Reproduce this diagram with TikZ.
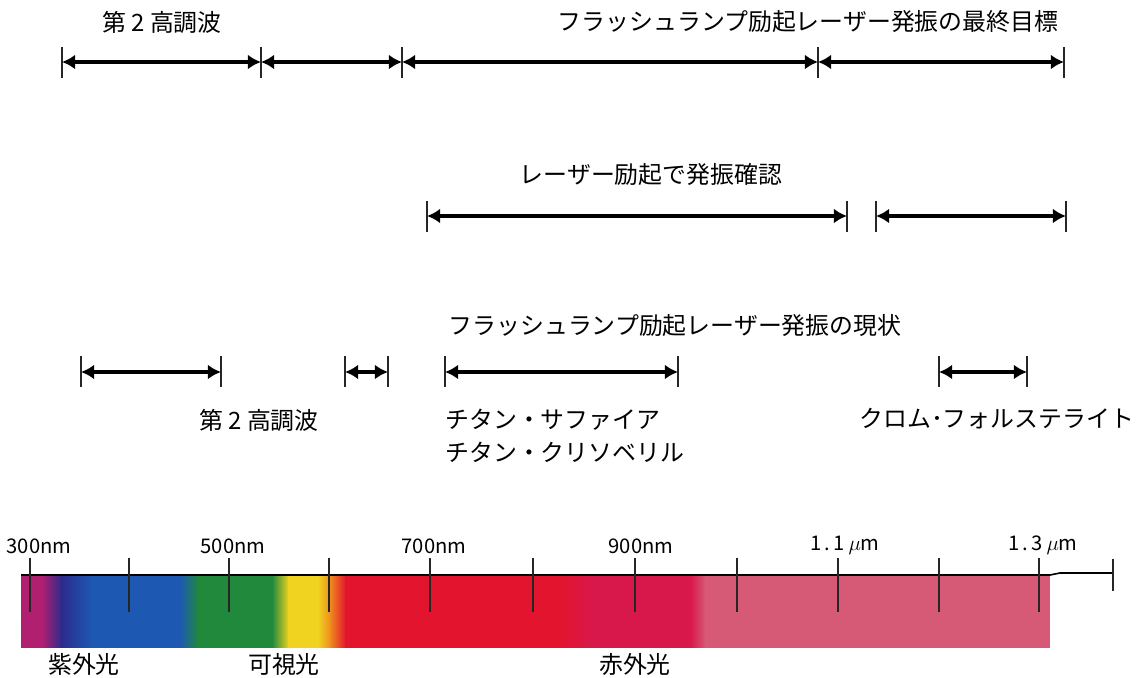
\documentclass[tikz,border=0pt]{standalone}
\usepackage{fontspec}
\setmainfont{Noto Sans CJK JP}
\usetikzlibrary{arrows.meta}
\definecolor{cMag}{HTML}{B01F70}
\definecolor{cInd}{HTML}{2B2A8C}
\definecolor{cBlu}{HTML}{1D59B2}
\definecolor{cGrn}{HTML}{20893C}
\definecolor{cYel}{HTML}{F0D320}
\definecolor{cOrg}{HTML}{EE8A1E}
\definecolor{cRed}{HTML}{E3152E}
\definecolor{cCrm}{HTML}{D8174A}
\definecolor{cPnk}{HTML}{D65A76}
\begin{document}
\begin{tikzpicture}[x=0.02cm,y=-0.02cm,
  tick/.style={line width=0.6pt,black!85},
  span/.style={line width=2.1pt,{Latex[length=7.5pt,width=8.5pt]}-{Latex[length=7.5pt,width=8.5pt]}},
  lbl/.style={font=\fontsize{13.6}{16}\selectfont,inner sep=0pt},
  num/.style={font=\fontsize{11.5}{13}\selectfont,inner sep=0pt}]
\useasboundingbox (0,0) rectangle (1137,678);

% ---------- row 1 ----------
\node[lbl] (l1a) at (162,22) {第 2 高調波};
\node[lbl] (l1b) at (808,22) {フラッシュランプ励起レーザー発振の最終目標};
\coordinate (t1) at (62,62);
\coordinate (t2) at (261,62);
\coordinate (t3) at (402,62);
\coordinate (t4) at (818,62);
\coordinate (t5) at (1064,62);
\foreach \c in {t1,t2,t3,t4,t5} \draw[tick] (\c) ++(0,-15) -- ++(0,31);
\draw[span] (t1) -- (t2);
\draw[span] (t2) -- (t3);
\draw[span] (t3) -- (t4);
\draw[span] (t4) -- (t5);

% ---------- row 2 ----------
\node[lbl] (l2) at (651,175) {レーザー励起で発振確認};
\coordinate (s1) at (427,216);
\coordinate (s2) at (847,216);
\coordinate (s3) at (876,216);
\coordinate (s4) at (1066,216);
\foreach \c in {s1,s2,s3,s4} \draw[tick] (\c) ++(0,-15) -- ++(0,31);
\draw[span] (s1) -- (s2);
\draw[span] (s3) -- (s4);

% ---------- row 3 ----------
\node[lbl] (l3) at (675,326) {フラッシュランプ励起レーザー発振の現状};
\coordinate (r1) at (81,372);
\coordinate (r2) at (221,372);
\coordinate (r3) at (345,372);
\coordinate (r4) at (388,372);
\coordinate (r5) at (445,372);
\coordinate (r6) at (678,372);
\coordinate (r7) at (939,372);
\coordinate (r8) at (1027,372);
\foreach \c in {r1,r2,r3,r4,r5,r6,r7,r8} \draw[tick] (\c) ++(0,-16) -- ++(0,31);
\draw[span] (r1) -- (r2);
\draw[span] (r3) -- (r4);
\draw[span] (r5) -- (r6);
\draw[span] (r7) -- (r8);
\node[lbl] (l3a) at (259,420) {第 2 高調波};
\node[lbl,anchor=west] (l3b) at (445,420) {チタン・サファイア};
\node[lbl,anchor=west] (l3c) at (445,452) {チタン・クリソベリル};
\node[lbl,anchor=west] (l3d) at (859,419) {クロム･フォルステライト};

% ---------- spectrum bar ----------
\fill[cMag] (21,575) rectangle (43,648);
\shade[left color=cMag,right color=cInd] (42,575) rectangle (62,648);
\shade[left color=cInd,right color=cBlu] (61,575) rectangle (92,648);
\fill[cBlu] (91,575) rectangle (181,648);
\shade[left color=cBlu,right color=cGrn] (180,575) rectangle (199,648);
\fill[cGrn] (198,575) rectangle (273,648);
\shade[left color=cGrn,right color=cYel] (272,575) rectangle (289,648);
\fill[cYel] (288,575) rectangle (319,648);
\shade[left color=cYel,right color=cOrg] (318,575) rectangle (331,648);
\shade[left color=cOrg,right color=cRed] (330,575) rectangle (346,648);
\fill[cRed] (345,575) rectangle (561,648);
\shade[left color=cRed,right color=cCrm] (560,575) rectangle (591,648);
\fill[cCrm] (590,575) rectangle (691,648);
\shade[left color=cCrm,right color=cPnk] (690,575) rectangle (706,648);
\fill[cPnk] (705,575) rectangle (1050,648);

\coordinate (b0) at (21,575);
\coordinate (b1) at (1050,575);
\coordinate (b2) at (1113,573);
\draw[line width=0.9pt] (b0) -- (b1) -- (1060,573) -- (b2);
\draw[tick] (b2) ++(0,-14) -- ++(0,32);
\foreach \x in {30,129,229,329,430,533,635,737,838,939,1039}
  \draw[tick] (\x,558) -- (\x,612);

\node[num] (n300) at (39,546) {300nm};
\node[num] (n500) at (233,546) {500nm};
\node[num] (n700) at (434,546) {700nm};
\node[num] (n900) at (641,546) {900nm};
\node[num] (n11) at (845,545) {1\,.\,1\,$\mu$m};
\node[num] (n13) at (1043,545) {1\,.\,3\,$\mu$m};

\node[lbl] (uv) at (84,664) {紫外光};
\node[lbl] (vis) at (284,664) {可視光};
\node[lbl] (ir) at (635,664) {赤外光};
\end{tikzpicture}
\end{document}
